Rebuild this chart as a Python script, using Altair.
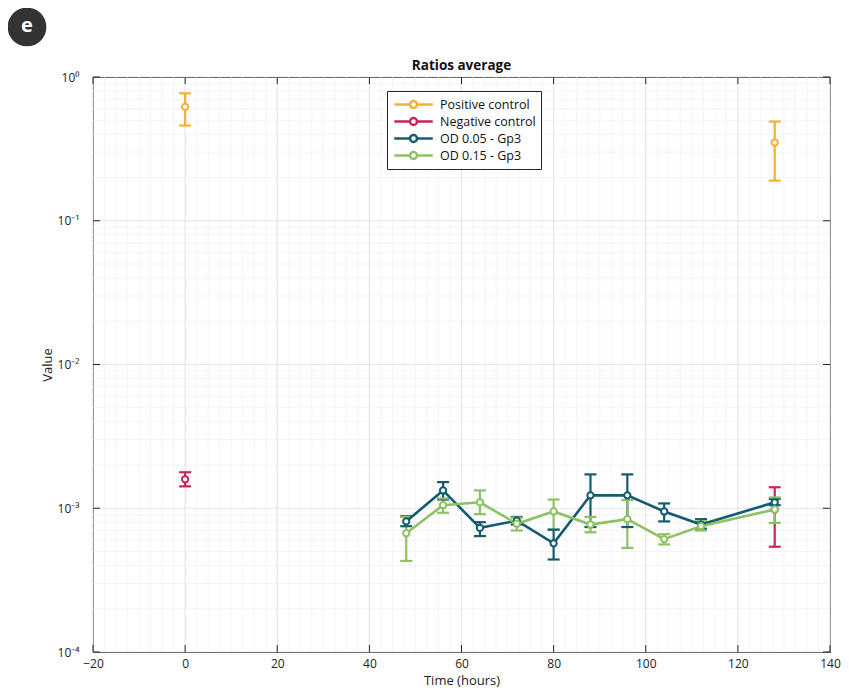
import altair as alt
import pandas as pd

# ---------------- data ----------------
series_names = ["Positive control", "Negative control", "OD 0.05 - Gp3", "OD 0.15 - Gp3"]
series_colors = ["#F2B134", "#C9245B", "#135B70", "#8DC264"]

pos_time = [0, 128]
pos_mean = [0.62, 0.35]
pos_hi = [0.77, 0.49]
pos_lo = [0.46, 0.19]

neg_time = [0, 128]
neg_mean = [1.59e-3, 9.8e-4]
neg_hi = [1.78e-3, 1.40e-3]
neg_lo = [1.42e-3, 5.4e-4]

od_time = [48, 56, 64, 72, 80, 88, 96, 104, 112, 128]
od005_mean = [8.1e-4, 1.33e-3, 7.3e-4, 8.2e-4, 5.7e-4, 1.23e-3, 1.23e-3, 9.5e-4, 7.7e-4, 1.10e-3]
od005_hi = [8.8e-4, 1.52e-3, 8.0e-4, 8.7e-4, 7.1e-4, 1.72e-3, 1.72e-3, 1.08e-3, 8.4e-4, 1.16e-3]
od005_lo = [7.5e-4, 1.15e-3, 6.4e-4, 7.7e-4, 4.4e-4, 7.4e-4, 7.4e-4, 8.1e-4, 7.2e-4, 1.05e-3]

od015_mean = [6.7e-4, 1.05e-3, 1.10e-3, 7.8e-4, 9.5e-4, 7.7e-4, 8.4e-4, 6.1e-4, 7.5e-4, 9.8e-4]
od015_hi = [8.7e-4, 1.17e-3, 1.33e-3, 8.6e-4, 1.15e-3, 8.7e-4, 1.14e-3, 6.6e-4, 8.1e-4, 1.19e-3]
od015_lo = [4.3e-4, 9.3e-4, 9.1e-4, 7.0e-4, 7.1e-4, 6.8e-4, 5.3e-4, 5.6e-4, 7.0e-4, 7.9e-4]

x_major = [-20, 0, 20, 40, 60, 80, 100, 120, 140]
x_minor = [v / 2 for v in range(-40, 281, 5)]
y_major = [1e-4, 1e-3, 1e-2, 1e-1, 1]
y_minor = [m * 10 ** e for e in range(-4, 0) for m in range(2, 10)]
y_labels = ["10⁻⁴", "10⁻³", "10⁻²", "10⁻¹", "10⁰"]

chart_title = "Ratios average"
x_title = "Time (hours)"
y_title = "Value"
badge = "e"

# ---------------- table ----------------
rows = []
def add(name, t, m, lo, hi, order):
    for i in range(len(t)):
        rows.append(dict(series=name, time=t[i], mean=m[i], lo=lo[i], hi=hi[i], order=order))

add(series_names[0], pos_time, pos_mean, pos_lo, pos_hi, 0)
add(series_names[1], neg_time, neg_mean, neg_lo, neg_hi, 1)
add(series_names[2], od_time, od005_mean, od005_lo, od005_hi, 2)
add(series_names[3], od_time, od015_mean, od015_lo, od015_hi, 3)
df = pd.DataFrame(rows)

W, H = 737, 575
FONT = "Open Sans"
FRAME = "#262626"

xs = alt.Scale(domain=[-20, 140], nice=False, zero=False)
ys = alt.Scale(type="log", domain=[1e-4, 1], nice=False)
cs = alt.Scale(domain=series_names, range=series_colors)

label_expr = "[" + ",".join("'%s'" % s for s in y_labels) + "][round(log(datum.value)/LN10)+4]"

XA = alt.Axis(values=x_major, grid=False, ticks=False, domain=False, labelPadding=6, labelFlush=False,
              title=x_title, titlePadding=5, labelFontSize=12, titleFontSize=13)
YA = alt.Axis(values=y_major, labelExpr=label_expr, grid=False, ticks=False, domain=False, labelFlush=False,
              labelPadding=14, title=y_title, titlePadding=3, labelFontSize=12, titleFontSize=13)

legend_path = "M-2.75,0L-0.5,0M0.5,0L2.75,0M-0.5,0A0.5,0.5,0,1,1,0.5,0A0.5,0.5,0,1,1,-0.5,0"
LEG = alt.Legend(orient="none", legendX=294, legendY=14, title=None, symbolType=legend_path,
                 symbolSize=196, symbolStrokeWidth=2.5, symbolFillColor="white", symbolOpacity=1,
                 symbolOffset=13, labelOffset=18, labelFontSize=12.5,
                 labelFont=FONT, labelColor="#111", strokeColor=FRAME,
                 fillColor="white", padding=5, rowPadding=-2)

def X(f):
    return alt.X(f, scale=xs, axis=XA)

def Y(f):
    return alt.Y(f, scale=ys, axis=YA)

def S():
    return alt.Stroke("series:N", scale=cs, legend=LEG)

# grid
gx_minor = alt.Chart(pd.DataFrame({"time": x_minor})).mark_rule(color="#efefef", strokeWidth=0.7).encode(
    x=X("time:Q"))
gy_minor = alt.Chart(pd.DataFrame({"lo": y_minor})).mark_rule(color="#efefef", strokeWidth=0.7).encode(
    y=Y("lo:Q"))
gx_major = alt.Chart(pd.DataFrame({"time": x_major})).mark_rule(color="#dedede", strokeWidth=0.8).encode(
    x=X("time:Q"))
gy_major = alt.Chart(pd.DataFrame({"lo": y_major})).mark_rule(color="#dedede", strokeWidth=0.8).encode(
    y=Y("lo:Q"))

# inward ticks on all sides
tx_top = alt.Chart(pd.DataFrame({"time": x_major})).mark_rule(color=FRAME, strokeWidth=1).encode(
    x=X("time:Q"), y=alt.value(0), y2=alt.value(7))
tx_bot = alt.Chart(pd.DataFrame({"time": x_major})).mark_rule(color=FRAME, strokeWidth=1).encode(
    x=X("time:Q"), y=alt.value(H - 7), y2=alt.value(H))
ty_left = alt.Chart(pd.DataFrame({"lo": y_major})).mark_rule(color=FRAME, strokeWidth=1).encode(
    y=Y("lo:Q"), x=alt.value(0), x2=alt.value(7))
ty_right = alt.Chart(pd.DataFrame({"lo": y_major})).mark_rule(color=FRAME, strokeWidth=1).encode(
    y=Y("lo:Q"), x=alt.value(W - 7), x2=alt.value(W))

base = alt.Chart(df)

err = base.mark_rule(strokeWidth=2.2).encode(x=X("time:Q"), y=Y("lo:Q"), y2="hi:Q", stroke=S())
cap_lo = base.mark_rule(strokeWidth=2.2, xOffset=-6, x2Offset=6).encode(
    x=X("time:Q"), x2="time:Q", y=Y("lo:Q"), stroke=S())
cap_hi = base.mark_rule(strokeWidth=2.2, xOffset=-6, x2Offset=6).encode(
    x=X("time:Q"), x2="time:Q", y=Y("hi:Q"), stroke=S())

lines = base.transform_filter("datum.order >= 2").mark_line(strokeWidth=2.6).encode(
    x=X("time:Q"), y=Y("mean:Q"), stroke=S(), order="time:Q")

points = base.mark_point(shape="circle", filled=False, fill="white", fillOpacity=1, size=40,
                         strokeWidth=2, opacity=1).encode(
    x=X("time:Q"), y=Y("mean:Q"), stroke=S())

title_df = pd.DataFrame({"label": [chart_title]})
title_text = alt.Chart(title_df).mark_text(fontSize=13.5, fontWeight="bold", font=FONT, color="#111",
                                           baseline="bottom", align="center").encode(
    x=alt.value(W / 2), y=alt.value(-4), text="label:N")

badge_df = pd.DataFrame({"label": [badge]})
badge_circle = alt.Chart(badge_df).mark_point(shape="circle", filled=True, color="#333333", size=1500,
                                             opacity=1).encode(x=alt.value(-66), y=alt.value(-50))
badge_text = alt.Chart(badge_df).mark_text(color="white", fontSize=20, fontWeight="bold", font=FONT,
                                           baseline="middle", align="center").encode(
    x=alt.value(-66), y=alt.value(-51), text="label:N")

chart = alt.layer(
    gx_minor, gy_minor, gx_major, gy_major, err, cap_lo, cap_hi, lines, points,
    tx_top, tx_bot, ty_left, ty_right, title_text, badge_circle, badge_text
).properties(
    width=W, height=H,
    padding={"left": 85, "top": 69, "right": 11, "bottom": 40},
    autosize=alt.AutoSizeParams(type="none"),
).configure_view(stroke=FRAME, strokeWidth=1).configure_axis(
    labelFont=FONT, titleFont=FONT, labelColor="#222", titleColor="#222", titleFontWeight="normal"
)

chart.save("out.html", embed_options={"renderer": "svg", "actions": False})
